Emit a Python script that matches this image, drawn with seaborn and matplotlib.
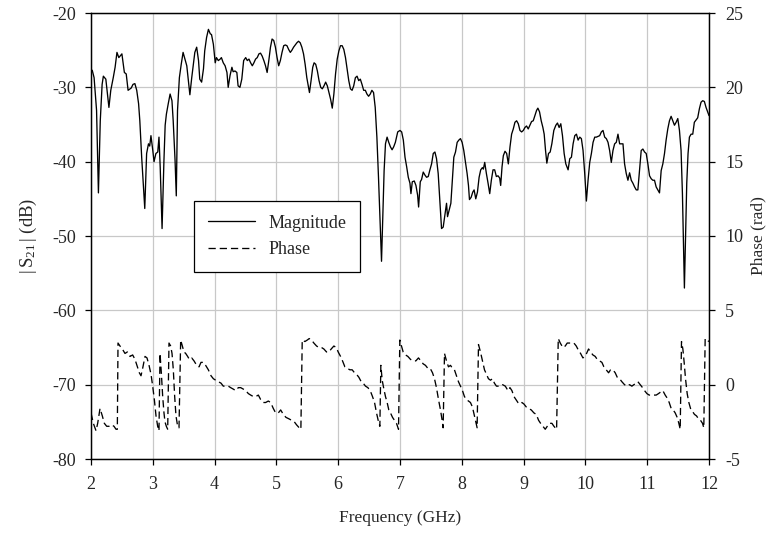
import pandas as pd
import matplotlib
matplotlib.use("Agg")
import matplotlib.pyplot as plt
from matplotlib.lines import Line2D
import seaborn as sns

# |S21| magnitude trace: frequency (GHz) and level (dB)
mag_freq = [
    2.00, 2.02, 2.05, 2.09, 2.12, 2.15, 2.18, 2.20, 2.24, 2.26,
    2.29, 2.32, 2.36, 2.39, 2.42, 2.45, 2.47, 2.50, 2.52, 2.54,
    2.57, 2.60, 2.65, 2.68, 2.71, 2.74, 2.77, 2.79, 2.82, 2.85,
    2.87, 2.90, 2.93, 2.95, 2.97, 3.00, 3.02, 3.05, 3.08, 3.10,
    3.12, 3.15, 3.18, 3.20, 3.22, 3.25, 3.28, 3.31, 3.33, 3.36,
    3.38, 3.40, 3.43, 3.46, 3.49, 3.52, 3.55, 3.57, 3.60, 3.63,
    3.66, 3.68, 3.71, 3.74, 3.76, 3.79, 3.82, 3.84, 3.87, 3.90,
    3.93, 3.95, 3.98, 4.01, 4.03, 4.06, 4.09, 4.11, 4.14, 4.17,
    4.20, 4.22, 4.25, 4.28, 4.30, 4.33, 4.36, 4.38, 4.41, 4.44,
    4.47,
    4.503, 4.529, 4.556, 4.583, 4.610, 4.636, 4.663, 4.690, 4.717, 4.743,
    4.770, 4.797, 4.824, 4.850, 4.877, 4.904, 4.930, 4.957, 4.984, 5.011,
    5.037, 5.064, 5.091, 5.118, 5.144, 5.171, 5.198, 5.225, 5.251, 5.278,
    5.305, 5.332, 5.358, 5.385, 5.412, 5.439, 5.465, 5.492, 5.519, 5.535,
    5.561, 5.588, 5.610, 5.636, 5.663, 5.690, 5.717, 5.743, 5.770, 5.797,
    5.824, 5.850, 5.877, 5.904, 5.930, 5.957, 5.984, 6.011, 6.037, 6.064,
    6.091, 6.118, 6.144, 6.171, 6.198, 6.225, 6.251, 6.278, 6.305, 6.332,
    6.358, 6.385, 6.412, 6.439, 6.465, 6.492, 6.519, 6.545, 6.572, 6.599,
    6.626, 6.652, 6.679, 6.701, 6.722, 6.743, 6.765, 6.791, 6.818, 6.845,
    6.872, 6.898, 6.925, 6.963,
    7.000, 7.027, 7.054, 7.081, 7.108, 7.134, 7.161, 7.177, 7.199, 7.231,
    7.258, 7.285, 7.301, 7.328, 7.349, 7.376, 7.403, 7.430, 7.457, 7.484,
    7.511, 7.538, 7.565, 7.591, 7.618, 7.645, 7.672, 7.699, 7.726, 7.753,
    7.769, 7.796, 7.823, 7.844, 7.871, 7.898, 7.925, 7.952, 7.978, 8.005,
    8.032, 8.059, 8.086, 8.108, 8.124, 8.151, 8.177, 8.199, 8.226, 8.253,
    8.280, 8.306, 8.333, 8.349, 8.371, 8.398, 8.425, 8.452, 8.478, 8.505,
    8.532, 8.559, 8.586, 8.613, 8.629, 8.651, 8.672, 8.699, 8.726, 8.753,
    8.780, 8.806, 8.833, 8.860, 8.887, 8.914, 8.941, 8.968, 8.995, 9.022,
    9.048, 9.075, 9.102, 9.129, 9.156, 9.183, 9.210, 9.231, 9.258, 9.285,
    9.312, 9.333, 9.355, 9.376, 9.403, 9.430, 9.457,
    9.489, 9.522, 9.548, 9.575, 9.602, 9.629, 9.656, 9.683, 9.720, 9.747,
    9.774, 9.801, 9.828, 9.855, 9.882, 9.909, 9.935, 9.962, 9.989, 10.016,
    10.043, 10.070, 10.097, 10.124, 10.151, 10.177, 10.204, 10.231, 10.258, 10.285,
    10.312, 10.339, 10.366, 10.392, 10.419, 10.446, 10.473, 10.500, 10.527, 10.554,
    10.581, 10.608, 10.634, 10.661, 10.688, 10.715, 10.742, 10.769, 10.796, 10.823,
    10.849, 10.876, 10.903, 10.930, 10.957, 10.984, 11.011, 11.038, 11.065, 11.091,
    11.118, 11.145, 11.172, 11.199, 11.226, 11.253, 11.280, 11.306, 11.333, 11.360,
    11.387, 11.414, 11.441, 11.468, 11.495, 11.522, 11.548, 11.570, 11.586, 11.602,
    11.618, 11.640, 11.661, 11.683, 11.710, 11.737, 11.763, 11.790, 11.817, 11.844,
    11.871, 11.898, 11.925, 11.952, 12.000,
]
mag_db = [
    -27.8, -27.7, -28.7, -33.1, -44.2, -34.5, -29.6, -28.5, -28.9, -30.4,
    -32.7, -30.4, -28.7, -27.3, -25.3, -26.0, -25.8, -25.5, -26.7, -28.0,
    -28.2, -30.4, -30.1, -29.6, -29.5, -30.4, -32.2, -34.5, -39.4, -43.4,
    -46.3, -38.9, -37.6, -37.9, -36.5, -38.5, -40.0, -38.9, -38.7, -36.7,
    -40.8, -49.0, -39.9, -35.1, -33.6, -32.2, -30.9, -31.8, -34.5, -39.8,
    -44.6, -33.1, -28.7, -26.9, -25.3, -26.2, -27.1, -28.7, -31.0, -28.7,
    -26.7, -25.3, -24.6, -26.4, -28.9, -29.3, -27.5, -25.1, -23.3, -22.2,
    -22.8, -22.9, -24.2, -26.7, -26.0, -26.4, -26.2, -26.0, -26.7, -27.1,
    -28.0, -30.0, -28.4, -27.3, -27.9, -27.8, -28.0, -29.8, -30.0, -28.9,
    -26.4,
    -26.0, -26.4, -26.2, -26.7, -27.1, -26.7, -26.2, -26.0, -25.5, -25.4,
    -25.8, -26.4, -27.1, -28.0, -26.4, -24.6, -23.5, -23.7, -24.6, -26.0,
    -27.1, -26.4, -25.3, -24.4, -24.3, -24.4, -24.9, -25.3, -25.0, -24.6,
    -24.3, -24.0, -23.8, -24.0, -24.6, -25.5, -26.9, -28.7, -30.0, -30.7,
    -29.1, -27.3, -26.7, -26.9, -27.8, -29.1, -30.0, -30.2, -29.8, -29.3,
    -29.8, -30.7, -31.6, -32.8, -30.9, -28.2, -26.2, -25.1, -24.4, -24.4,
    -24.9, -26.0, -27.5, -29.1, -30.2, -30.4, -29.8, -28.7, -28.5, -29.1,
    -28.9, -29.6, -30.4, -30.4, -30.9, -31.2, -30.9, -30.4, -30.7, -32.7,
    -36.7, -42.1, -48.3, -53.4, -47.4, -41.2, -37.6, -36.7, -37.4, -38.0,
    -38.4, -38.0, -37.4, -36.0,
    -35.8, -36.0, -37.1, -39.4, -40.7, -42.1, -42.9, -44.3, -42.7, -42.6,
    -43.2, -44.5, -46.1, -42.7, -42.4, -41.4, -41.8, -42.1, -42.0, -41.1,
    -40.3, -38.9, -38.7, -39.6, -41.6, -45.2, -49.0, -48.8, -47.2, -45.6,
    -47.4, -46.5, -45.6, -42.9, -39.4, -38.7, -37.4, -37.1, -36.9, -37.4,
    -38.5, -40.1, -41.6, -43.2, -45.1, -44.8, -44.1, -43.8, -45.0, -44.1,
    -42.1, -41.1, -40.8, -41.0, -40.1, -41.6, -42.9, -44.3, -42.5, -41.1,
    -41.1, -42.0, -41.9, -42.2, -43.2, -40.7, -39.2, -38.6, -38.9, -40.3,
    -38.0, -36.3, -35.6, -34.7, -34.5, -34.9, -35.8, -36.0, -35.8, -35.4,
    -35.2, -35.6, -35.1, -34.6, -34.5, -33.8, -33.1, -32.8, -33.3, -34.5,
    -35.4, -36.3, -38.5, -40.2, -38.9, -38.7, -37.6,
    -35.8, -35.1, -34.8, -35.4, -34.9, -36.5, -38.9, -40.3, -41.1, -39.6,
    -39.4, -37.6, -36.5, -36.3, -37.1, -36.7, -36.9, -38.5, -41.6, -45.3,
    -42.5, -40.1, -38.9, -37.4, -36.7, -36.7, -36.6, -36.5, -36.0, -35.8,
    -36.7, -36.9, -37.4, -38.5, -40.1, -38.5, -37.6, -37.4, -36.3, -37.6,
    -37.6, -37.6, -40.3, -41.6, -42.5, -41.5, -42.5, -42.9, -43.4, -43.8,
    -43.8, -41.2, -38.5, -38.3, -38.7, -38.9, -40.3, -41.9, -42.3, -42.5,
    -42.5, -43.4, -43.8, -44.2, -41.2, -40.3, -38.9, -37.1, -35.6, -34.5,
    -33.9, -34.5, -35.1, -34.7, -34.2, -35.8, -38.5, -44.3, -51.0, -57.0,
    -51.0, -42.9, -38.9, -36.7, -36.3, -36.3, -34.7, -34.4, -34.1, -32.9,
    -32.0, -31.8, -31.9, -32.7, -33.8,
]

# Wrapped phase trace: frequency (GHz) and phase (rad)
phase_freq = [
    2.000, 2.038, 2.081, 2.108, 2.146, 2.183, 2.216, 2.254, 2.291, 2.334,
    2.372, 2.405, 2.426, 2.437, 2.469, 2.507, 2.550, 2.588, 2.631, 2.674,
    2.712, 2.750, 2.782, 2.809, 2.836, 2.874, 2.906, 2.939, 2.971, 2.998,
    3.025, 3.052, 3.079, 3.100, 3.117, 3.138, 3.160, 3.181, 3.197, 3.219,
    3.241, 3.262, 3.289, 3.311, 3.332, 3.354, 3.375, 3.402, 3.424, 3.451,
    3.478, 3.505, 3.532, 3.564, 3.591, 3.629, 3.667, 3.710, 3.748, 3.780,
    3.818, 3.855, 3.899, 3.942, 3.980, 4.017, 4.060, 4.104, 4.141, 4.179,
    4.222, 4.260, 4.303, 4.341, 4.384, 4.422, 4.465, 4.503, 4.546, 4.584,
    4.627, 4.665, 4.708, 4.745, 4.789, 4.826, 4.869, 4.907, 4.950, 4.988,
    5.031, 5.069, 5.112, 5.155, 5.204, 5.247, 5.290,
    5.326, 5.369, 5.396, 5.418, 5.461, 5.499, 5.531, 5.569, 5.606, 5.650,
    5.687, 5.730, 5.768, 5.811, 5.849, 5.887, 5.930, 5.968, 6.000, 6.038,
    6.070, 6.108, 6.146, 6.189, 6.226, 6.264, 6.296, 6.334, 6.372, 6.404,
    6.442, 6.480, 6.518, 6.555, 6.588, 6.620, 6.647, 6.674, 6.690, 6.712,
    6.739, 6.765, 6.792, 6.819, 6.846, 6.879, 6.911, 6.943, 6.976, 6.997,
    7.024, 7.051, 7.089, 7.127, 7.170, 7.213, 7.256, 7.299, 7.337, 7.375,
    7.412, 7.450, 7.488, 7.526, 7.558, 7.590, 7.623, 7.655, 7.682, 7.698,
    7.720, 7.752, 7.784, 7.817, 7.849, 7.881, 7.914, 7.946, 7.978, 8.011,
    8.043, 8.075, 8.108, 8.140, 8.172, 8.199, 8.226, 8.248, 8.270, 8.302,
    8.334, 8.367, 8.399, 8.431, 8.464, 8.496, 8.528, 8.561, 8.604,
    8.617, 8.660, 8.704, 8.747, 8.779, 8.811, 8.844, 8.876, 8.908, 8.941,
    8.973, 9.005, 9.043, 9.081, 9.124, 9.167, 9.205, 9.243, 9.275, 9.313,
    9.350, 9.383, 9.420, 9.458, 9.491, 9.534, 9.561, 9.593, 9.636, 9.674,
    9.706, 9.744, 9.782, 9.814, 9.852, 9.889, 9.922, 9.960, 9.987, 10.019,
    10.051, 10.084, 10.121, 10.159, 10.191, 10.229, 10.267, 10.299, 10.337, 10.375,
    10.407, 10.445, 10.482, 10.515, 10.553, 10.590, 10.633, 10.671, 10.714, 10.752,
    10.784, 10.822, 10.849, 10.887, 10.925, 10.957, 10.995, 11.032, 11.070, 11.108,
    11.146, 11.183, 11.216, 11.253, 11.291, 11.323, 11.356, 11.388, 11.420, 11.453,
    11.485, 11.512, 11.534, 11.555, 11.577, 11.598, 11.620, 11.647, 11.674, 11.701,
    11.733, 11.765, 11.798, 11.830, 11.863, 11.895, 11.916, 11.938, 11.965, 12.000,
]
phase_rad = [
    -1.9, -2.6, -3.1, -2.6, -1.6, -2.1, -2.6, -2.8, -2.8, -2.7,
    -2.8, -3.0, -3.0, 2.8, 2.6, 2.4, 2.1, 2.2, 1.9, 2.0,
    1.7, 1.2, 0.8, 0.6, 1.1, 1.9, 1.8, 1.3, 0.7, -0.1,
    -1.0, -2.1, -2.8, -3.1, 2.1, 0.8, -0.8, -1.9, -2.5, -2.8,
    -3.0, 2.8, 2.6, 2.1, 1.0, -0.8, -2.1, -2.8, -2.9, 3.0,
    2.6, 2.2, 2.1, 1.9, 1.7, 1.8, 1.6, 1.3, 1.2, 1.5,
    1.5, 1.3, 1.0, 0.6, 0.4, 0.3, 0.2, 0.1, -0.1, -0.1,
    -0.1, -0.2, -0.3, -0.4, -0.2, -0.2, -0.3, -0.4, -0.6, -0.7,
    -0.8, -0.8, -0.7, -1.0, -1.2, -1.2, -1.1, -1.2, -1.6, -1.9,
    -1.9, -1.7, -2.0, -2.2, -2.3, -2.4, -2.5,
    -2.7, -2.9, -3.0, 3.0, 2.9, 3.0, 3.1, 3.0, 2.8, 2.6,
    2.5, 2.5, 2.4, 2.2, 2.2, 2.4, 2.6, 2.5, 2.2, 1.9,
    1.6, 1.2, 1.1, 1.0, 1.0, 0.8, 0.7, 0.5, 0.2, 0.1,
    -0.1, -0.2, -0.4, -0.8, -1.2, -1.9, -2.4, -2.8, 1.3, 0.3,
    -0.3, -0.8, -1.2, -1.7, -1.9, -2.2, -2.4, -2.6, -3.0, 3.0,
    2.6, 2.2, 2.0, 1.9, 1.7, 1.6, 1.6, 1.8, 1.6, 1.4,
    1.3, 1.1, 1.1, 0.8, 0.4, -0.2, -1.0, -1.7, -2.4, -2.9,
    2.1, 1.6, 1.2, 1.3, 1.1, 1.0, 0.6, 0.2, -0.1, -0.4,
    -0.8, -1.0, -1.1, -1.2, -1.5, -2.0, -2.5, -2.9, 2.7, 2.2,
    1.6, 1.0, 0.7, 0.4, 0.3, 0.4, 0.1, -0.1, -0.1,
    -0.1, 0.0, -0.1, -0.4, -0.2, -0.4, -0.8, -1.0, -1.2, -1.3,
    -1.2, -1.3, -1.5, -1.6, -1.7, -1.9, -2.0, -2.4, -2.6, -2.8,
    -3.0, -2.8, -2.6, -2.6, -2.8, -3.0, 3.1, 2.8, 2.5, 2.6,
    2.8, 2.8, 2.8, 2.8, 2.6, 2.3, 2.1, 1.8, 1.9, 2.1,
    2.4, 2.2, 2.0, 1.9, 1.7, 1.6, 1.5, 1.2, 1.0, 0.8,
    1.0, 1.0, 0.8, 0.5, 0.4, 0.2, 0.0, -0.1, 0.0, -0.1,
    0.0, 0.1, 0.2, 0.0, -0.2, -0.4, -0.6, -0.7, -0.7, -0.7,
    -0.7, -0.6, -0.5, -0.4, -0.7, -0.9, -1.2, -1.6, -1.7, -1.9,
    -2.2, -2.6, -3.0, 2.9, 2.4, 1.5, 0.4, -0.6, -1.2, -1.6,
    -1.8, -2.0, -2.1, -2.3, -2.4, -2.6, -2.9, 3.1, 3.0, 2.9,
]

freq_ticks = [2, 3, 4, 5, 6, 7, 8, 9, 10, 11, 12]
mag_ticks = [-80, -70, -60, -50, -40, -30, -20]
phase_ticks = [-5, 0, 5, 10, 15, 20, 25]
series_names = ["Magnitude", "Phase"]

sns.set_style("white")
plt.rcParams["font.family"] = ["Liberation Serif", "DejaVu Serif"]
plt.rcParams["mathtext.fontset"] = "custom"
plt.rcParams["mathtext.rm"] = "Liberation Serif"
plt.rcParams["mathtext.it"] = "Liberation Serif:italic"

mag_df = pd.DataFrame({"freq": mag_freq, "mag": mag_db})
phase_df = pd.DataFrame({"freq": phase_freq, "phase": phase_rad})

fig = plt.figure(figsize=(7.71, 5.40), dpi=100)
ax = fig.add_axes([91 / 771, 81 / 540, 618 / 771, 446 / 540])
ax2 = ax.twinx()

LW = 0.95
DASH = (5.5, 3.0)

sns.lineplot(data=mag_df, x="freq", y="mag", ax=ax, color="black", lw=LW,
             estimator=None, sort=False)
sns.lineplot(data=phase_df, x="freq", y="phase", ax=ax2, color="black", lw=LW,
             estimator=None, sort=False)
ax2.lines[0].set_dashes(DASH)

ax.set_xlim(2, 12)
ax.set_ylim(-80, -20)
ax2.set_ylim(-5, 25)
ax.set_xticks(freq_ticks)
ax.set_yticks(mag_ticks)
ax2.set_yticks(phase_ticks)
ax.set_xticklabels([str(t) for t in freq_ticks])
ax.set_yticklabels([str(t) for t in mag_ticks])
ax2.set_yticklabels([str(t) for t in phase_ticks])

ax.grid(True, color="#c8c8c8", lw=0.9)
ax2.grid(False)
ax.set_axisbelow(True)

for a in (ax, ax2):
    for s in a.spines.values():
        s.set_color("black")
        s.set_linewidth(0.9)
ax.tick_params(axis="both", which="major", direction="out", length=4.5, width=0.9,
               color="black", labelsize=13)
ax.tick_params(axis="x", pad=8, bottom=True)
ax.tick_params(axis="y", pad=6, left=True)
ax2.tick_params(axis="y", direction="out", length=4.5, width=0.9, color="black",
                labelsize=13, pad=7, right=True)

ax.set_xlabel("Frequency (GHz)", fontsize=12.5, labelpad=12)
ax.set_ylabel(r"$|\,\mathrm{S}_{21}\,|$ (dB)", fontsize=13.5, labelpad=10)
ax2.set_ylabel("Phase (rad)", fontsize=12.5, labelpad=5)

handles = [Line2D([], [], color="black", lw=LW),
           Line2D([], [], color="black", lw=LW, dashes=DASH)]
leg = ax2.legend(handles, series_names, loc="upper left",
                 bbox_to_anchor=(0.1667, 0.5785), borderaxespad=0,
                 fontsize=13, frameon=True, fancybox=False, framealpha=1,
                 edgecolor="black", handlelength=2.6, handletextpad=0.8,
                 borderpad=0.75, labelspacing=0.55)
leg.get_frame().set_linewidth(0.9)

fig.savefig("out.png", dpi=100)
